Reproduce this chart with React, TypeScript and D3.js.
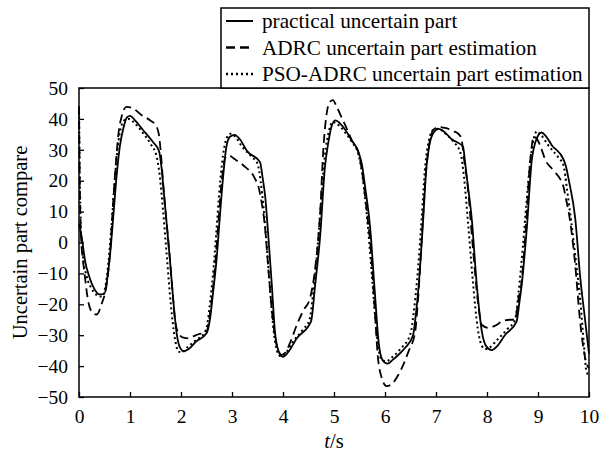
import { useEffect, useRef } from "react";
import * as d3 from "d3";

// [t (s), value]
const practical: [number, number][] = [
  [0, 6], [0.05, 2], [0.12, -6], [0.2, -11], [0.3, -15], [0.4, -16.8], [0.5, -16.5],
  [0.56, -11], [0.62, -2], [0.68, 10], [0.74, 22], [0.8, 31], [0.87, 37], [0.94, 40.5],
  [1.0, 41], [1.1, 39.5], [1.25, 36.5], [1.45, 32.5], [1.57, 29.5], [1.62, 24], [1.67, 15],
  [1.72, 6], [1.78, -5], [1.85, -19], [1.92, -30], [1.98, -34], [2.06, -35.2], [2.15, -34.5],
  [2.3, -32], [2.5, -29.4], [2.57, -24.6], [2.63, -16], [2.7, -5], [2.76, 8], [2.83, 22],
  [2.89, 31], [2.96, 34.2], [3.05, 34.8], [3.15, 33.5], [3.3, 29.5], [3.55, 26], [3.6, 21],
  [3.65, 15], [3.71, 2.5], [3.78, -13.5], [3.84, -28.5], [3.91, -35], [4.0, -37], [4.1, -35.5],
  [4.27, -31], [4.55, -25.5], [4.63, -13.8], [4.73, 2.4], [4.82, 24], [4.89, 32.5], [4.96, 38],
  [5.03, 39.5], [5.12, 38.5], [5.22, 36.5], [5.35, 33], [5.48, 29.3], [5.55, 25], [5.61, 18],
  [5.71, 4.5], [5.8, -16], [5.88, -33], [5.95, -38], [6.05, -39.2], [6.15, -38], [6.26, -36.4],
  [6.4, -34], [6.55, -30], [6.6, -24], [6.66, -14], [6.75, 7.8], [6.81, 24], [6.87, 31.5],
  [6.95, 35.5], [7.05, 36.8], [7.15, 36], [7.3, 33.5], [7.53, 31], [7.57, 26], [7.62, 19],
  [7.7, 7.8], [7.8, -13.8], [7.9, -28.9], [7.99, -33.7], [8.09, -34.8], [8.2, -33.5],
  [8.35, -30], [8.58, -25.6], [8.63, -20], [8.68, -13.8], [8.78, 4.5], [8.88, 27], [8.95, 32.5],
  [9.07, 35.6], [9.15, 34.5], [9.27, 31.5], [9.5, 26.9], [9.55, 24.5], [9.6, 20.5], [9.73, 7.8],
  [9.83, -11.6], [9.92, -24.6], [10.0, -36],
];

const adrc: [number, number][] = [
  [0, 44], [0.015, 20], [0.04, 2], [0.08, -6], [0.12, -11.6], [0.18, -19], [0.28, -23],
  [0.35, -23.3], [0.44, -20], [0.54, -13.8], [0.61, -3], [0.67, 13], [0.72, 25], [0.77, 34.7],
  [0.84, 41], [0.93, 43.9], [1.07, 43.3], [1.23, 41.2], [1.4, 39.5], [1.5, 38], [1.56, 35.5],
  [1.6, 30], [1.65, 19], [1.72, 6], [1.78, -5], [1.84, -17], [1.88, -24.6], [1.95, -29.4],
  [2.05, -30.8], [2.14, -31], [2.25, -30.3], [2.34, -29.7], [2.5, -29], [2.55, -25],
  [2.62, -16], [2.68, -5], [2.74, 8], [2.8, 20], [2.87, 27.5], [2.93, 28.2], [3.05, 27],
  [3.22, 25], [3.45, 20.7], [3.52, 18], [3.57, 14], [3.65, 4.5], [3.72, -10], [3.8, -25],
  [3.88, -33.5], [3.97, -36.4], [4.05, -35.5], [4.15, -32], [4.27, -26.7], [4.4, -22],
  [4.53, -18], [4.63, -8.4], [4.73, 10], [4.79, 30], [4.85, 41], [4.92, 45.5], [4.98, 46.1],
  [5.05, 44], [5.15, 40.5], [5.22, 38], [5.35, 33], [5.48, 29], [5.56, 22], [5.63, 12],
  [5.72, -2], [5.8, -22], [5.86, -37], [5.93, -43.5], [6.03, -46.5], [6.12, -46], [6.26, -42.9],
  [6.46, -35.3], [6.59, -29], [6.65, -18], [6.74, 7], [6.8, 22], [6.87, 32], [6.95, 36.5],
  [7.05, 37.4], [7.2, 37], [7.35, 36], [7.45, 35], [7.5, 33.5], [7.55, 27], [7.62, 18.5],
  [7.72, -1], [7.82, -19], [7.9, -26.7], [8.02, -27.6], [8.15, -27], [8.3, -25.5],
  [8.45, -25], [8.55, -25], [8.62, -18], [8.67, -13.8], [8.76, 4.5], [8.84, 25], [8.92, 34.3],
  [8.98, 33.5], [9.04, 31.5], [9.15, 26.5], [9.3, 23.4], [9.5, 18], [9.55, 14], [9.6, 10],
  [9.73, -7.3], [9.82, -24.6], [9.88, -33], [9.94, -38.5], [10.0, -40.7],
];

const psoAdrc: [number, number][] = [
  [0, 44], [0.015, 22], [0.04, 3], [0.08, -5], [0.15, -11], [0.25, -15], [0.35, -17],
  [0.45, -17.5], [0.52, -14], [0.58, -6], [0.64, 6], [0.7, 20], [0.76, 31], [0.82, 37],
  [0.9, 39.7], [0.97, 40], [1.1, 38.5], [1.25, 35.5], [1.4, 32], [1.52, 28], [1.58, 22],
  [1.65, 10], [1.72, -4], [1.8, -20], [1.88, -31], [1.95, -35.3], [2.02, -35.5], [2.12, -34],
  [2.3, -31.5], [2.45, -29.5], [2.52, -26], [2.58, -18], [2.64, -8], [2.7, 5], [2.77, 20],
  [2.84, 30], [2.9, 34], [2.97, 35.2], [3.05, 34.5], [3.2, 31], [3.4, 27.5], [3.5, 25.5],
  [3.56, 20], [3.62, 11], [3.68, -1], [3.75, -16], [3.82, -29], [3.88, -35], [3.95, -36.8],
  [4.05, -35.8], [4.2, -32], [4.4, -28], [4.52, -25], [4.58, -18], [4.66, -5], [4.75, 14],
  [4.82, 28], [4.9, 36], [4.97, 39], [5.05, 38.5], [5.2, 36], [5.35, 32.5], [5.48, 28.5],
  [5.57, 20], [5.66, 6], [5.75, -12], [5.84, -30], [5.92, -37.5], [6.02, -38.5], [6.15, -37],
  [6.3, -34.5], [6.5, -29.5], [6.56, -23], [6.63, -12], [6.72, 8], [6.79, 25], [6.86, 33],
  [6.95, 36.5], [7.05, 36.8], [7.2, 35], [7.35, 32.5], [7.48, 29], [7.55, 21], [7.63, 6],
  [7.72, -12], [7.82, -28], [7.9, -33.5], [7.97, -34.5], [8.05, -34], [8.2, -31.5],
  [8.4, -28], [8.55, -25], [8.62, -16], [8.7, -2], [8.78, 14], [8.86, 28], [8.93, 34.5],
  [8.98, 36], [9.05, 35], [9.2, 31.5], [9.4, 27.5], [9.5, 25], [9.57, 17], [9.65, 7],
  [9.75, -7], [9.83, -19], [9.9, -33], [9.95, -41.8], [10.0, -43],
];

const xTicks = [0, 1, 2, 3, 4, 5, 6, 7, 8, 9, 10];
const yTicks = [-50, -40, -30, -20, -10, 0, 10, 20, 30, 40, 50];
const legendLabels = [
  "practical uncertain part",
  "ADRC uncertain part estimation",
  "PSO-ADRC uncertain part estimation",
];

const width = 601;
const height = 451;
const margin = { top: 88, right: 12, bottom: 54, left: 79 };
const font = "'Liberation Serif', 'Times New Roman', serif";

export default function App() {
  const svgRef = useRef<SVGSVGElement>(null);

  useEffect(() => {
    const svg = d3.select(svgRef.current);
    svg.selectAll("*").remove();

    const boundsWidth = width - margin.left - margin.right;
    const boundsHeight = height - margin.top - margin.bottom;

    const xScale = d3.scaleLinear().domain([0, 10]).range([0, boundsWidth]);
    const yScale = d3.scaleLinear().domain([-50, 50]).range([boundsHeight, 0]);

    const g = svg
      .append("g")
      .attr("transform", `translate(${margin.left},${margin.top})`);

    const line = d3
      .line<[number, number]>()
      .x((d) => xScale(d[0]))
      .y((d) => yScale(d[1]))
      .curve(d3.curveMonotoneX);

    const series = [
      { data: practical, dash: null, width: 1.8 },
      { data: adrc, dash: "9,5", width: 1.8 },
      { data: psoAdrc, dash: "2,3", width: 2 },
    ];

    g.append("g")
      .selectAll("path")
      .data(series)
      .join("path")
      .attr("d", (d) => line(d.data))
      .attr("fill", "none")
      .attr("stroke", "#000")
      .attr("stroke-width", (d) => d.width)
      .attr("stroke-dasharray", (d) => d.dash);

    // frame
    g.append("rect")
      .attr("width", boundsWidth)
      .attr("height", boundsHeight)
      .attr("fill", "none")
      .attr("stroke", "#000")
      .attr("stroke-width", 1.5);

    // axes, ticks inward
    const xAxis = g
      .append("g")
      .attr("transform", `translate(0,${boundsHeight})`)
      .call(
        d3.axisBottom(xScale).tickValues(xTicks).tickSizeInner(-5).tickSizeOuter(0).tickPadding(12)
      );
    const yAxis = g
      .append("g")
      .call(
        d3.axisLeft(yScale).tickValues(yTicks).tickSizeInner(-5).tickSizeOuter(0).tickPadding(11)
      );
    [xAxis, yAxis].forEach((ax) => {
      ax.select(".domain").remove();
      ax.selectAll("line").attr("stroke", "#000").attr("stroke-width", 1.3);
      ax.selectAll("text")
        .attr("fill", "#000")
        .style("font-family", font)
        .style("font-size", "19.5px");
    });

    // axis labels
    g.append("text")
      .attr("transform", `translate(${-52},${boundsHeight / 2}) rotate(-90)`)
      .attr("text-anchor", "middle")
      .style("font-family", font)
      .style("font-size", "20.5px")
      .text("Uncertain part compare");

    const xl = g
      .append("text")
      .attr("x", boundsWidth / 2)
      .attr("y", boundsHeight + 51)
      .attr("text-anchor", "middle")
      .style("font-family", font)
      .style("font-size", "20.5px");
    xl.append("tspan").style("font-style", "italic").text("t");
    xl.append("tspan").text("/s");

    // legend
    const lx = 221;
    const ly = 8;
    const legend = svg.append("g").attr("transform", `translate(${lx},${ly})`);
    legend
      .append("rect")
      .attr("width", width - margin.right - lx)
      .attr("height", margin.top - ly)
      .attr("fill", "#fff")
      .attr("stroke", "#000")
      .attr("stroke-width", 1.5);

    legendLabels.forEach((label, i) => {
      const cy = 13 + i * 26.5;
      legend
        .append("line")
        .attr("x1", 5)
        .attr("x2", 32)
        .attr("y1", cy)
        .attr("y2", cy)
        .attr("stroke", "#000")
        .attr("stroke-width", i === 0 ? 2 : 2.6)
        .attr("stroke-dasharray", series[i].dash);
      legend
        .append("text")
        .attr("x", 41)
        .attr("y", cy + 7)
        .style("font-family", font)
        .style("font-size", "21.2px")
        .text(label);
    });
  }, []);

  return (
    <div style={{ position: "absolute", left: 0, top: 0 }}>
      <svg ref={svgRef} width={width} height={height} style={{ display: "block", background: "#fff" }} />
    </div>
  );
}
